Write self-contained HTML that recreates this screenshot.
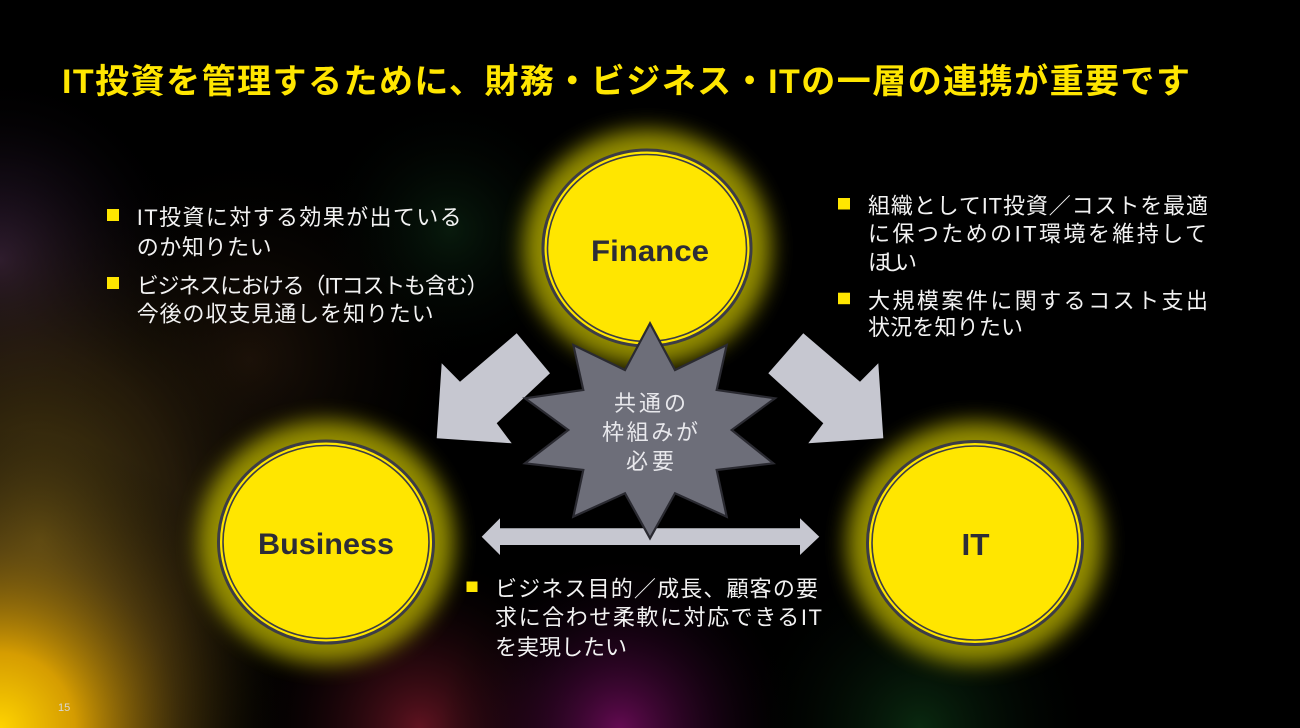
<!DOCTYPE html>
<html><head><meta charset="utf-8">
<style>
html,body{margin:0;padding:0;background:#000;}
body{width:1300px;height:728px;overflow:hidden;}
svg{display:block;}
.jp{font-family:"Liberation Sans","Noto Sans CJK JP",sans-serif;}
</style></head>
<body>
<svg width="1300" height="728" viewBox="0 0 1300 728" xmlns="http://www.w3.org/2000/svg">
<defs>
  <radialGradient id="gY" cx="0" cy="728" r="300" gradientUnits="userSpaceOnUse">
    <stop offset="0" stop-color="#ffd400" stop-opacity="1"/>
    <stop offset="0.25" stop-color="#e8aa00" stop-opacity="0.9"/>
    <stop offset="0.6" stop-color="#7a5a10" stop-opacity="0.4"/>
    <stop offset="1" stop-color="#000" stop-opacity="0"/>
  </radialGradient>
  <radialGradient id="gOl" cx="40" cy="540" r="290" gradientUnits="userSpaceOnUse" gradientTransform="translate(40 540) scale(1 1.3) translate(-40 -540)">
    <stop offset="0" stop-color="#6e5818" stop-opacity="0.8"/>
    <stop offset="0.5" stop-color="#3c2c10" stop-opacity="0.55"/>
    <stop offset="1" stop-color="#000" stop-opacity="0"/>
  </radialGradient>
  <radialGradient id="gPu" cx="0" cy="260" r="190" gradientUnits="userSpaceOnUse">
    <stop offset="0" stop-color="#3e2444" stop-opacity="0.85"/>
    <stop offset="1" stop-color="#000" stop-opacity="0"/>
  </radialGradient>
  <radialGradient id="gBr" cx="250" cy="360" r="220" gradientUnits="userSpaceOnUse">
    <stop offset="0" stop-color="#2a1a0c" stop-opacity="0.7"/>
    <stop offset="1" stop-color="#000" stop-opacity="0"/>
  </radialGradient>
  <radialGradient id="gRd" cx="420" cy="728" r="180" gradientUnits="userSpaceOnUse">
    <stop offset="0" stop-color="#701626" stop-opacity="0.85"/>
    <stop offset="1" stop-color="#000" stop-opacity="0"/>
  </radialGradient>
  <radialGradient id="gMg" cx="620" cy="730" r="180" gradientUnits="userSpaceOnUse">
    <stop offset="0" stop-color="#700c5c" stop-opacity="0.9"/>
    <stop offset="1" stop-color="#000" stop-opacity="0"/>
  </radialGradient>
  <radialGradient id="gGr1" cx="450" cy="230" r="140" gradientUnits="userSpaceOnUse">
    <stop offset="0" stop-color="#123a1c" stop-opacity="0.45"/>
    <stop offset="1" stop-color="#000" stop-opacity="0"/>
  </radialGradient>
  <radialGradient id="gGr2" cx="920" cy="728" r="180" gradientUnits="userSpaceOnUse">
    <stop offset="0" stop-color="#0e3a16" stop-opacity="0.7"/>
    <stop offset="1" stop-color="#000" stop-opacity="0"/>
  </radialGradient>
  <filter id="blur" x="-50%" y="-50%" width="200%" height="200%">
    <feGaussianBlur stdDeviation="11"/>
  </filter>
</defs>

<!-- background -->
<rect width="1300" height="728" fill="#000"/>
<rect width="1300" height="728" fill="url(#gBr)"/>
<rect width="1300" height="728" fill="url(#gPu)"/>
<rect width="1300" height="728" fill="url(#gOl)"/>
<rect width="1300" height="728" fill="url(#gGr1)"/>
<rect width="1300" height="728" fill="url(#gRd)"/>
<rect width="1300" height="728" fill="url(#gMg)"/>
<rect width="1300" height="728" fill="url(#gGr2)"/>
<rect width="1300" height="728" fill="url(#gY)"/>

<!-- title -->
<text class="jp" x="62" y="93" font-size="34" font-weight="bold" fill="#ffe600" textLength="1128" lengthAdjust="spacing">IT投資を管理するために、財務・ビジネス・ITの一層の連携が重要です</text>

<!-- circle glows -->
<ellipse cx="647" cy="248" rx="124" ry="118" fill="#b8b000" opacity="0.8" filter="url(#blur)"/>
<ellipse cx="326" cy="542" rx="128" ry="121" fill="#b8b000" opacity="0.8" filter="url(#blur)"/>
<ellipse cx="975" cy="543" rx="128" ry="121" fill="#b8b000" opacity="0.8" filter="url(#blur)"/>

<!-- Finance circle -->
<ellipse cx="647" cy="248" rx="104" ry="98" fill="#ffe600" stroke="#3c3c46" stroke-width="3"/>
<ellipse cx="647" cy="248" rx="99.5" ry="93.5" fill="none" stroke="#3c3c46" stroke-width="1.6"/>
<!-- Business circle -->
<ellipse cx="326" cy="542" rx="107.5" ry="101" fill="#ffe600" stroke="#3c3c46" stroke-width="3"/>
<ellipse cx="326" cy="542" rx="103" ry="96.5" fill="none" stroke="#3c3c46" stroke-width="1.6"/>
<!-- IT circle -->
<ellipse cx="975" cy="543" rx="107.5" ry="101.5" fill="#ffe600" stroke="#3c3c46" stroke-width="3"/>
<ellipse cx="975" cy="543" rx="103" ry="97" fill="none" stroke="#3c3c46" stroke-width="1.6"/>

<text x="650" y="261" font-family="Liberation Sans, sans-serif" font-size="30" font-weight="bold" fill="#2d2d37" text-anchor="middle" textLength="118" lengthAdjust="spacingAndGlyphs">Finance</text>
<text x="326" y="554" font-family="Liberation Sans, sans-serif" font-size="30" font-weight="bold" fill="#2d2d37" text-anchor="middle" textLength="136" lengthAdjust="spacingAndGlyphs">Business</text>
<text x="975.5" y="555" font-family="Liberation Sans, sans-serif" font-size="31" font-weight="bold" fill="#2d2d37" text-anchor="middle" textLength="28" lengthAdjust="spacingAndGlyphs">IT</text>

<!-- arrows -->
<polygon points="516.7,333.3 550,373.3 496.7,423.3 511.7,443.3 436.7,438.3 441.7,363.3 460,381.7" fill="#c6c7d0"/>
<polygon points="803.3,333.3 860,381.7 878.3,363.3 883.3,438.3 808.3,443.3 823.3,423.3 768.3,373.3" fill="#c6c7d0"/>
<polygon points="481.7,536.7 500,518.3 500,528.3 800,528.3 800,518.3 819.3,536.7 800,555 800,545 500,545 500,555" fill="#c6c7d0"/>

<!-- starburst -->
<polygon points="650,323.3 675,370 726.7,345 716.7,390 775,398.3 731.7,430 773.3,463.3 716.7,470 726.7,516.7 675,493.3 650,538.3 625,493.3 573.3,516.7 583.3,470 525,463.3 568.3,430 525,398.3 583.3,390 573.3,345 625,370" fill="#6d6e79" stroke="#2a2a31" stroke-width="2.2" stroke-linejoin="miter"/>
<text class="jp" x="650" y="411" font-size="22" fill="#e8e8ec" text-anchor="middle" textLength="72" lengthAdjust="spacing">共通の</text>
<text class="jp" x="650" y="440" font-size="22" fill="#e8e8ec" text-anchor="middle" textLength="96" lengthAdjust="spacing">枠組みが</text>
<text class="jp" x="650" y="469" font-size="22" fill="#e8e8ec" text-anchor="middle" textLength="48" lengthAdjust="spacing">必要</text>

<!-- left text block -->
<rect x="107" y="209" width="12" height="12" fill="#ffe600"/>
<text class="jp" x="136.7" y="225" font-size="22" fill="#f2f2f2" textLength="325" lengthAdjust="spacing">IT投資に対する効果が出ている</text>
<text class="jp" x="136.7" y="255" font-size="22" fill="#f2f2f2" textLength="135" lengthAdjust="spacing">のか知りたい</text>
<rect x="107" y="277" width="12" height="12" fill="#ffe600"/>
<text class="jp" x="136.7" y="293.5" font-size="22" fill="#f2f2f2" textLength="352" lengthAdjust="spacing">ビジネスにおける（ITコストも含む）</text>
<text class="jp" x="136.7" y="321.7" font-size="22" fill="#f2f2f2" textLength="297" lengthAdjust="spacing">今後の収支見通しを知りたい</text>

<!-- right text block -->
<rect x="838" y="198" width="12" height="11.5" fill="#ffe600"/>
<text class="jp" x="868" y="213.5" font-size="22" fill="#f2f2f2" textLength="340" lengthAdjust="spacing">組織としてIT投資／コストを最適</text>
<text class="jp" x="868" y="241.7" font-size="22" fill="#f2f2f2" textLength="339" lengthAdjust="spacing">に保つためのIT環境を維持して</text>
<text class="jp" x="868" y="270" font-size="22" fill="#f2f2f2" textLength="49" lengthAdjust="spacing">ほしい</text>
<rect x="838" y="292.7" width="12" height="11.5" fill="#ffe600"/>
<text class="jp" x="868" y="308.5" font-size="22" fill="#f2f2f2" textLength="340" lengthAdjust="spacing">大規模案件に関するコスト支出</text>
<text class="jp" x="868" y="335" font-size="22" fill="#f2f2f2" textLength="155" lengthAdjust="spacing">状況を知りたい</text>

<!-- bottom text block -->
<rect x="466.5" y="581.5" width="11" height="10.5" fill="#ffe600"/>
<text class="jp" x="495" y="596.5" font-size="22" fill="#f2f2f2" textLength="323" lengthAdjust="spacing">ビジネス目的／成長、顧客の要</text>
<text class="jp" x="495" y="625" font-size="22" fill="#f2f2f2" textLength="327" lengthAdjust="spacing">求に合わせ柔軟に対応できるIT</text>
<text class="jp" x="495" y="655" font-size="22" fill="#f2f2f2" textLength="132" lengthAdjust="spacing">を実現したい</text>

<!-- page number -->
<text x="58" y="711" font-family="Liberation Sans, sans-serif" font-size="11" fill="#d8d8d8">15</text>
</svg>
</body></html>
